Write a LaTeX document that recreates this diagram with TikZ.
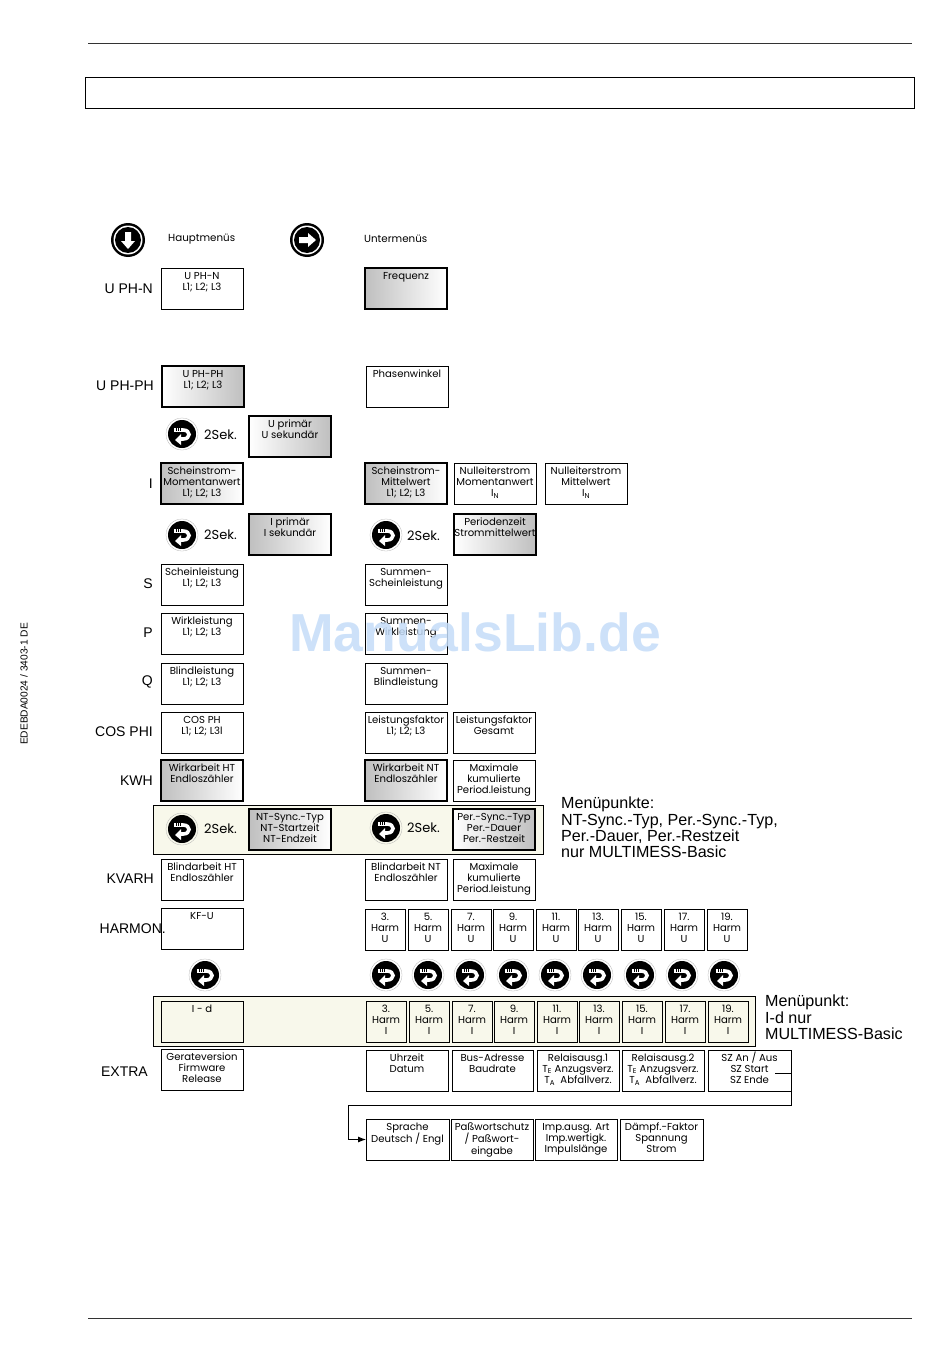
\documentclass[tikz,border=0pt]{standalone}
\usepackage{fontspec}
\usepackage{xcolor}
\usepackage{tikz}
\usetikzlibrary{arrows.meta}
\setmainfont{Liberation Sans}
\newfontfamily\boxfont{Poppins}
\definecolor{cream}{HTML}{F8F8EB}
\definecolor{wmark}{HTML}{C4DCF8}
\newcommand{\subT}[1]{T\textsubscript{#1}}
\newcommand{\mt}[1]{\begin{tabular}[t]{@{}c@{}}#1\end{tabular}}
\tikzset{
  rightkey/.pic={
    \fill[black] (0,0) circle (17);
    \fill[white] (0,0) circle (14.5);
    \fill[black] (0,0) circle (13);
    \fill[white] (-8,-3)--(1,-3)--(1,-7)--(9,0)--(1,7)--(1,3)--(-8,3)--cycle;
  },
  downkey/.pic={
    \fill[black] (0,0) circle (17);
    \fill[white] (0,0) circle (14.5);
    \fill[black] (0,0) circle (13);
    \fill[white] (-3,-8)--(-3,1)--(-7,1)--(0,9)--(7,1)--(3,1)--(3,-8)--cycle;
  },
  turnkey/.pic={
    \draw[gray!60, line width=.3pt] (0,0) circle (16);
    \fill[black] (0,0) circle (14);
    \draw[white, line width=3.6pt] (-8,-4)--(1,-4) .. controls (9,-4) and (9,5) .. (1,5)--(-1,5);
    \fill[white] (-7,6)--(-1,0)--(-1,11)--cycle;
    \draw[black, line width=.5pt] (-6,-6)--(-6,-3) (-4,-6)--(-4,-3) (-2,-6)--(-2,-3);
  }
}

\begin{document}
\begin{tikzpicture}[x=1pt,y=-1pt]
\tikzstyle{menubox}=[draw, anchor=north west, inner sep=0pt, outer sep=0pt, line width=.8pt,
  minimum width=82pt, font=\boxfont\fontsize{10.1}{11.4}\selectfont,
  text height=11pt, text depth=30pt]
\tikzstyle{heavybox}=[menubox, line width=1.6pt]
\tikzstyle{shadeleft}=[heavybox, left color=gray!50, right color=white]
\tikzstyle{shaderight}=[heavybox, left color=white, right color=gray!50]
\tikzstyle{harmbox}=[menubox, minimum width=40pt]
\tikzstyle{rowlabel}=[anchor=east, inner sep=0pt, font=\fontsize{14}{16}\selectfont]
\tikzstyle{seklabel}=[anchor=west, inner sep=0pt, font=\boxfont\fontsize{13}{15}\selectfont]
\tikzstyle{headlabel}=[anchor=west, inner sep=0pt, font=\boxfont\fontsize{10.3}{11}\selectfont]
\tikzstyle{band}=[draw, anchor=north west, inner sep=0pt, fill=cream, line width=.8pt]
\tikzstyle{note}=[anchor=north west, inner sep=0pt, align=left, font=\fontsize{16.1}{16.3}\selectfont]
\useasboundingbox (0,0) rectangle (950,1370);

% page frame
\draw[line width=1pt, black!80] (88,44)--(912,44);
\draw[line width=1pt, black!80] (88,1318)--(912,1318);
\draw[line width=1pt] (85.5,77.5) rectangle (914,109);
\node[rotate=90, inner sep=0pt, font=\fontsize{10.2}{11}\selectfont] (docnr) at (24,684) {EDEBDA0024 / 3403-1 DE};

% bands
\node[band, minimum width=389.5pt, minimum height=49pt] (bandkwh) at (153,805) {};
\node[band, minimum width=601.5pt, minimum height=50pt] (bandid) at (153,996) {};

% head
\pic at (128,240) {downkey};
\pic at (307,240) {rightkey};
\node[headlabel] (hauptmenu) at (168,239) {Hauptmenüs};
\node[headlabel] (untermenu) at (364,239) {Untermenüs};

% row labels
\node[rowlabel] (lbluphn) at (153,289) {U PH-N};
\node[rowlabel] (lbluphph) at (154,386) {U PH-PH};
\node[rowlabel] (lbli) at (153,484) {I};
\node[rowlabel] (lbls) at (153,584) {S};
\node[rowlabel] (lblp) at (153,633) {P};
\node[rowlabel] (lblq) at (153,682) {Q};
\node[rowlabel] (lblcos) at (153,732) {COS PHI};
\node[rowlabel] (lblkwh) at (153,781) {KWH};
\node[rowlabel] (lblkvarh) at (154,879) {KVARH};
\node[rowlabel] (lblharm) at (166,929) {HARMON.};
\node[rowlabel] (lblextra) at (148,1072) {EXTRA};

% main menus
\node[menubox] (uphn) at (161,268) {\mt{U PH-N\\L1; L2; L3}};
\node[shaderight] (uphph) at (162,366) {\mt{U PH-PH\\L1; L2; L3}};
\node[shaderight] (uprim) at (249,416) {\mt{U primär\\U sekundär}};
\node[shadeleft] (imom) at (161,463) {\mt{Scheinstrom-\\Momentanwert\\L1; L2; L3}};
\node[shadeleft] (iprim) at (249,514) {\mt{I primär\\I sekundär}};
\node[menubox] (schein) at (161,564) {\mt{Scheinleistung\\L1; L2; L3}};
\node[menubox] (wirk) at (161,613) {\mt{Wirkleistung\\L1; L2; L3}};
\node[menubox] (blind) at (161,663) {\mt{Blindleistung\\L1; L2; L3}};
\node[menubox] (cosphi) at (161,712) {\mt{COS PH\\L1; L2; L3l}};
\node[shadeleft] (wirkht) at (161,760) {\mt{Wirkarbeit HT\\Endloszähler}};
\node[shadeleft] (ntsync) at (249,809) {\mt{NT-Sync.-Typ\\NT-Startzeit\\NT-Endzeit}};
\node[menubox] (blindht) at (161,859) {\mt{Blindarbeit HT\\Endloszähler}};
\node[menubox] (kfu) at (161,908) {KF-U};
\node[menubox, fill=cream] (id) at (161,1001) {I - d};
\node[menubox] (version) at (161,1049) {\mt{Gerateversion\\Firmware\\Release}};

% sub menus
\node[shadeleft] (freq) at (365,268) {Frequenz};
\node[menubox] (phase) at (366,366) {Phasenwinkel};
\node[shadeleft] (imit) at (365,463) {\mt{Scheinstrom-\\Mittelwert\\L1; L2; L3}};
\node[menubox] (nullmom) at (454,463) {\mt{Nulleiterstrom\\Momentanwert\\I\textsubscript{N}}};
\node[menubox] (nullmit) at (545,463) {\mt{Nulleiterstrom\\Mittelwert\\I\textsubscript{N}}};
\node[shaderight] (period) at (454,514) {\mt{Periodenzeit\\Strommittelwert}};
\node[menubox] (sumschein) at (365,564) {\mt{Summen-\\Scheinleistung}};
\node[menubox] (sumwirk) at (365,613) {\mt{Summen-\\Wirkleistung}};
\node[menubox] (sumblind) at (365,663) {\mt{Summen-\\Blindleistung}};
\node[menubox] (lfphase) at (365,712) {\mt{Leistungsfaktor\\L1; L2; L3}};
\node[menubox] (lfges) at (453,712) {\mt{Leistungsfaktor\\Gesamt}};
\node[shadeleft] (wirknt) at (365,760) {\mt{Wirkarbeit NT\\Endloszähler}};
\node[menubox] (maxwirk) at (453,760) {\mt{Maximale\\kumulierte\\Period.leistung}};
\node[shaderight] (persync) at (453,809) {\mt{Per.-Sync.-Typ\\Per.-Dauer\\Per.-Restzeit}};
\node[menubox] (blindnt) at (365,859) {\mt{Blindarbeit NT\\Endloszähler}};
\node[menubox] (maxblind) at (453,859) {\mt{Maximale\\kumulierte\\Period.leistung}};

% 2 seconds
\pic at (182,434) {turnkey};
\node[seklabel] (sek1) at (204,435) {2Sek.};
\pic at (182,535) {turnkey};
\node[seklabel] (sek2) at (204,535) {2Sek.};
\pic at (386,535) {turnkey};
\node[seklabel] (sek3) at (407,536) {2Sek.};
\pic at (182,829) {turnkey};
\node[seklabel] (sek4) at (204,829) {2Sek.};
\pic at (386,828) {turnkey};
\node[seklabel] (sek5) at (407,828) {2Sek.};
\pic at (205,975) {turnkey};

% harmonics
\foreach \n/\xu/\xi/\xk in {3/365/366/386, 5/408/409/428, 7/451/452/470, 9/493/494/513,
    11/536/537/555, 13/578/579/597, 15/621/622/640, 17/664/665/682, 19/707/708/724} {
  \node[harmbox] (harmu\n) at (\xu,909) {\mt{\n.\\Harm\\U}};
  \node[harmbox, fill=cream, line width=1pt] (harmi\n) at (\xi,1001) {\mt{\n.\\Harm\\I}};
  \pic at (\xk,975) {turnkey};
}

% extra
\node[menubox] (uhrzeit) at (366,1050) {\mt{Uhrzeit\\Datum}};
\node[menubox, minimum width=81pt] (busadr) at (452,1050) {\mt{Bus-Adresse\\Baudrate}};
\node[menubox] (relais1) at (537,1050) {\mt{Relaisausg.1\\\subT{E} Anzugsverz.\\\subT{A}\ \ Abfallverz.}};
\node[menubox] (relais2) at (622,1050) {\mt{Relaisausg.2\\\subT{E} Anzugsverz.\\\subT{A}\ \ Abfallverz.}};
\node[menubox, minimum width=83pt] (sommer) at (708,1050) {\mt{SZ An / Aus\\SZ Start\\SZ Ende}};
\node[menubox, minimum width=83pt] (sprache) at (366,1119) {\mt{Sprache\\Deutsch / Engl}};
\node[menubox] (passwort) at (451,1119) {\mt{Paßwortschutz\\/ Paßwort-\\eingabe}};
\node[menubox] (impuls) at (535,1119) {\mt{Imp.ausg. Art\\Imp.wertigk.\\Impulslänge}};
\node[menubox, minimum width=83pt] (daempf) at (620,1119) {\mt{Dämpf.-Faktor\\Spannung\\Strom}};

\coordinate (szout) at (775,1073);
\coordinate (turn) at (348,1105);
\draw[line width=.9pt, -{Latex[length=8pt,width=6pt]}] (szout)--(sommer.east |- szout) |- (turn) |- (sprache.west);

% notes
\node[note] (note1) at (561,797) {Menüpunkte:\\NT-Sync.-Typ, Per.-Sync.-Typ,\\Per.-Dauer, Per.-Restzeit\\nur MULTIMESS-Basic};
\node[note] (note2) at (765,995) {Menüpunkt:\\I-d nur\\MULTIMESS-Basic};

\node[text=wmark, opacity=.85, inner sep=0pt, font=\bfseries\fontsize{53.5}{58}\selectfont] (watermark) at (475,632) {ManualsLib.de};
\end{tikzpicture}
\end{document}
